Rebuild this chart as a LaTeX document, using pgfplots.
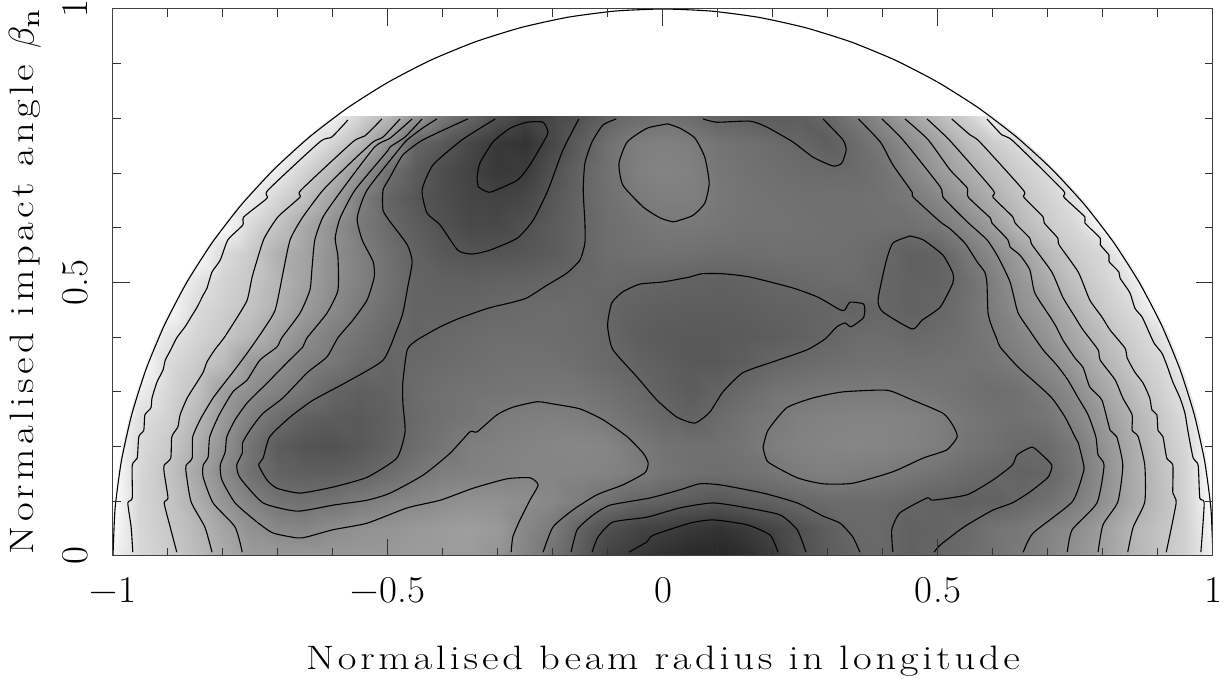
\documentclass[border=0pt]{standalone}
\usepackage{graphicx}
\usepackage{fontspec}
\setmainfont{Latin Modern Roman}[LetterSpace=11,FakeStretch=1.2]
\newfontfamily\ylabfont{Latin Modern Roman}[LetterSpace=12.5,FakeStretch=1.2]
\newfontfamily\tickfont{Latin Modern Roman}[LetterSpace=1,FakeStretch=1.03]
\usepackage{pgfplots}
\pgfplotsset{compat=1.18}
\begin{document}
\begin{tikzpicture}[x=1bp,y=1bp]
\useasboundingbox (-113,-123) rectangle (1107,556);
\begin{axis}[
  at={(0,0)},anchor=south west,
  scale only axis,width=1100bp,height=547bp,
  xmin=-1,xmax=1,ymin=0,ymax=1,
  axis on top,
  axis line style={line width=1bp,black!75},
  tick style={line width=1bp,black!80},
  tick align=inside,
  xtick={-1,-0.5,0,0.5,1},ytick={0,0.5,1},
  minor tick num=4,
  major tick length=17bp,minor tick length=8bp,
  xtick pos=both,ytick pos=both,
  xticklabel pos=bottom,yticklabel pos=left,
  xticklabels={−1,−0.5,0,0.5,1},
  yticklabels={0,0.5,1},
  xticklabel style={font=\tickfont\fontsize{38}{38}\selectfont,anchor=base,yshift=-47bp},
  yticklabel style={font=\tickfont\fontsize{38}{38}\selectfont,rotate=90,anchor=base,yshift=25bp},
  every axis x label/.style={at={(axis description cs:0.5,0)},anchor=base,yshift=-114bp,font=\fontsize{34}{34}\selectfont},
  every axis y label/.style={at={(axis description cs:0,0.5)},rotate=90,anchor=base,yshift=79bp,font=\ylabfont\fontsize{34}{34}\selectfont},
  xlabel={Normalised beam radius in longitude},
  ylabel={Normalised impact angle\ \scalebox{3.6}{\fontsize{10}{12}\selectfont$\beta_{\mathrm{n}}$}},
  colormap/blackwhite,
  point meta min=0,point meta max=1,
  clip=true,
]
\begin{scope}
\clip (axis cs:0,0) ellipse [x radius=552bp,y radius=549bp];
\addplot[surf,shader=interp,mesh/cols=41,mesh/rows=17,point meta=explicit] table[row sep=\\,header=false,
  x expr={-1+0.05*mod(\coordindex,41)},y expr={0.0503125*floor(\coordindex/41)},meta index=0]{
.95\\.85\\.80\\.74\\.67\\.61\\.60\\.60\\.60\\.60\\.60\\.61\\.61\\.61\\.58\\.52\\.45\\.36\\.26\\.23\\.19\\.16\\.15\\.17\\.23\\.31\\.36\\.40\\.41\\.38\\.40\\.42\\.45\\.48\\.52\\.57\\.63\\.70\\.76\\.82\\.95\\
.98\\.84\\.785\\.72\\.645\\.57\\.53\\.52\\.55\\.57\\.58\\.60\\.61\\.62\\.60\\.53\\.48\\.39\\.31\\.27\\.25\\.22\\.20\\.23\\.27\\.32\\.37\\.41\\.41\\.38\\.39\\.41\\.45\\.47\\.51\\.55\\.62\\.705\\.76\\.82\\.97\\
1\\.84\\.775\\.69\\.58\\.51\\.45\\.44\\.45\\.485\\.51\\.53\\.555\\.57\\.57\\.555\\.53\\.49\\.44\\.40\\.38\\.36\\.34\\.36\\.38\\.405\\.42\\.42\\.42\\.405\\.385\\.375\\.38\\.405\\.44\\.49\\.565\\.655\\.735\\.825\\1\\
1\\.84\\.765\\.66\\.54\\.44\\.385\\.37\\.37\\.39\\.425\\.465\\.495\\.505\\.51\\.52\\.52\\.52\\.51\\.49\\.46\\.44\\.43\\.44\\.46\\.485\\.50\\.49\\.48\\.465\\.445\\.42\\.405\\.385\\.40\\.46\\.555\\.66\\.745\\.825\\1\\
1\\.855\\.79\\.69\\.57\\.45\\.36\\.33\\.32\\.345\\.385\\.425\\.46\\.495\\.505\\.515\\.525\\.53\\.52\\.48\\.45\\.44\\.44\\.46\\.49\\.51\\.52\\.525\\.52\\.51\\.49\\.46\\.44\\.415\\.42\\.475\\.57\\.665\\.76\\.84\\1\\
1\\.875\\.82\\.725\\.60\\.50\\.425\\.375\\.36\\.35\\.375\\.415\\.44\\.46\\.485\\.495\\.50\\.495\\.47\\.44\\.41\\.385\\.42\\.45\\.475\\.50\\.51\\.515\\.515\\.51\\.495\\.465\\.445\\.44\\.46\\.52\\.60\\.69\\.78\\.86\\1\\
1\\.93\\.84\\.765\\.62\\.555\\.505\\.455\\.395\\.37\\.385\\.42\\.44\\.45\\.455\\.46\\.465\\.46\\.44\\.415\\.385\\.36\\.39\\.42\\.45\\.465\\.475\\.48\\.48\\.47\\.46\\.445\\.43\\.445\\.49\\.55\\.645\\.73\\.81\\.885\\1\\
1\\1\\.855\\.80\\.73\\.60\\.56\\.50\\.465\\.42\\.395\\.41\\.42\\.43\\.44\\.445\\.445\\.43\\.41\\.39\\.37\\.35\\.35\\.37\\.40\\.415\\.43\\.44\\.445\\.44\\.445\\.45\\.46\\.49\\.54\\.61\\.70\\.775\\.84\\.95\\1\\
1\\1\\.90\\.835\\.785\\.715\\.63\\.555\\.49\\.45\\.405\\.395\\.41\\.42\\.43\\.43\\.425\\.42\\.405\\.37\\.355\\.35\\.35\\.355\\.365\\.38\\.40\\.42\\.425\\.41\\.42\\.44\\.475\\.52\\.585\\.66\\.74\\.81\\.87\\1\\1\\
1\\1\\.98\\.86\\.81\\.765\\.69\\.61\\.54\\.48\\.43\\.39\\.39\\.395\\.41\\.42\\.425\\.42\\.40\\.38\\.37\\.365\\.365\\.37\\.38\\.385\\.395\\.39\\.40\\.38\\.40\\.44\\.49\\.56\\.62\\.71\\.79\\.85\\.98\\1\\1\\
1\\1\\1\\.90\\.83\\.78\\.71\\.635\\.56\\.505\\.445\\.39\\.38\\.375\\.385\\.39\\.40\\.41\\.415\\.405\\.395\\.385\\.38\\.385\\.40\\.41\\.42\\.425\\.40\\.38\\.385\\.43\\.50\\.585\\.675\\.76\\.825\\.90\\1\\1\\1\\
1\\1\\1\\1\\.86\\.795\\.69\\.64\\.56\\.50\\.44\\.385\\.345\\.33\\.33\\.34\\.36\\.395\\.43\\.44\\.445\\.44\\.43\\.43\\.435\\.435\\.435\\.43\\.41\\.375\\.39\\.46\\.54\\.62\\.725\\.80\\.85\\.98\\1\\1\\1\\
1\\1\\1\\1\\.98\\.85\\.76\\.66\\.565\\.475\\.415\\.365\\.32\\.285\\.285\\.32\\.36\\.395\\.43\\.45\\.47\\.47\\.46\\.45\\.45\\.445\\.44\\.44\\.44\\.44\\.465\\.53\\.615\\.72\\.795\\.845\\.98\\1\\1\\1\\1\\
1\\1\\1\\1\\1\\.93\\.835\\.75\\.63\\.495\\.395\\.34\\.305\\.27\\.26\\.28\\.345\\.395\\.44\\.475\\.495\\.495\\.47\\.455\\.445\\.44\\.44\\.44\\.445\\.47\\.53\\.605\\.685\\.76\\.825\\.89\\1\\1\\1\\1\\1\\
1\\1\\1\\1\\1\\1\\.92\\.825\\.72\\.58\\.44\\.36\\.30\\.26\\.22\\.235\\.32\\.39\\.445\\.495\\.515\\.505\\.465\\.445\\.435\\.42\\.415\\.42\\.45\\.52\\.60\\.665\\.74\\.805\\.865\\1\\1\\1\\1\\1\\1\\
1\\1\\1\\1\\1\\1\\1\\.93\\.83\\.72\\.57\\.40\\.345\\.28\\.22\\.20\\.28\\.365\\.44\\.49\\.505\\.49\\.455\\.44\\.42\\.40\\.37\\.42\\.48\\.555\\.64\\.73\\.80\\.86\\1\\1\\1\\1\\1\\1\\1\\
1\\1\\1\\1\\1\\1\\1\\1\\.95\\.83\\.73\\.59\\.47\\.40\\.32\\.26\\.28\\.32\\.385\\.42\\.44\\.42\\.385\\.37\\.36\\.37\\.405\\.47\\.55\\.635\\.73\\.81\\.95\\1\\1\\1\\1\\1\\1\\1\\1\\
};
\end{scope}
\tikzset{ct/.style={black,line width=1.1bp,line join=round,mark=none,smooth,tension=0.35}}
% semicircle boundary
\addplot[ct] coordinates {(-1,0)(-.9962,.0872)(-.9848,.1736)(-.9659,.2588)(-.9397,.3420)(-.9063,.4226)(-.8660,.5)(-.8192,.5736)(-.7660,.6428)(-.7071,.7071)(-.6428,.7660)(-.5736,.8192)(-.5,.8660)(-.4226,.9063)(-.3420,.9397)(-.2588,.9659)(-.1736,.9848)(-.0872,.9962)(0,1)(.0872,.9962)(.1736,.9848)(.2588,.9659)(.3420,.9397)(.4226,.9063)(.5,.8660)(.5736,.8192)(.6428,.7660)(.7071,.7071)(.7660,.6428)(.8192,.5736)(.8660,.5)(.9063,.4226)(.9397,.3420)(.9659,.2588)(.9848,.1736)(.9962,.0872)(1,0)};
% left contours
\addplot[ct] coordinates {(-.964,.007)(-.967,.053)(-.973,.097)(-.965,.106)(-.965,.166)(-.956,.179)(-.953,.218)(-.944,.230)(-.942,.258)(-.931,.271)(-.929,.289)(-.920,.318)(-.909,.340)(-.905,.358)(-.895,.377)(-.884,.399)(-.869,.419)(-.858,.437)(-.847,.455)(-.836,.477)(-.829,.490)(-.820,.519)(-.805,.541)(-.791,.578)(-.764,.605)(-.762,.620)(-.720,.654)(-.718,.669)(-.624,.757)(-.602,.766)(-.573,.797)};
\addplot[ct] coordinates {(-.884,.007)(-.896,.053)(-.907,.097)(-.900,.106)(-.907,.152)(-.907,.166)(-.895,.179)(-.893,.218)(-.882,.236)(-.878,.258)(-.865,.289)(-.847,.318)(-.836,.336)(-.829,.355)(-.815,.377)(-.798,.399)(-.775,.435)(-.756,.468)(-.747,.510)(-.738,.541)(-.725,.581)(-.700,.620)(-.660,.656)(-.658,.669)(-.564,.757)(-.542,.768)(-.511,.799)};
\addplot[ct] coordinates {(-.820,.007)(-.833,.053)(-.858,.099)(-.867,.152)(-.867,.166)(-.856,.179)(-.855,.218)(-.840,.252)(-.818,.289)(-.796,.318)(-.782,.336)(-.756,.371)(-.727,.413)(-.705,.450)(-.691,.517)(-.678,.578)(-.656,.618)(-.618,.669)(-.569,.718)(-.527,.757)(-.509,.766)(-.478,.799)};
\addplot[ct] coordinates {(-.765,.007)(-.778,.053)(-.818,.097)(-.836,.144)(-.836,.166)(-.827,.181)(-.824,.218)(-.807,.258)(-.782,.300)(-.756,.322)(-.733,.358)(-.702,.382)(-.693,.399)(-.660,.444)(-.642,.486)(-.638,.528)(-.633,.578)(-.618,.620)(-.584,.669)(-.524,.748)(-.496,.764)(-.456,.799)};
\addplot[ct] coordinates {(-.438,.799)(-.469,.766)(-.496,.748)(-.502,.739)(-.560,.669)(-.587,.618)(-.596,.581)(-.591,.547)(-.591,.486)(-.611,.444)(-.647,.399)(-.655,.382)(-.684,.353)(-.720,.316)(-.756,.280)(-.778,.249)(-.793,.218)(-.796,.190)(-.805,.166)(-.802,.139)(-.778,.097)(-.738,.062)(-.709,.042)(-.665,.033)(-.647,.035)(-.600,.048)(-.538,.060)(-.465,.088)(-.405,.102)(-.345,.124)(-.284,.141)(-.242,.143)(-.227,.130)(-.242,.102)(-.260,.066)(-.273,.035)(-.276,.007)};
\addplot[ct] coordinates {(-.411,.799)(-.436,.783)(-.465,.761)(-.478,.746)(-.538,.669)(-.556,.618)(-.547,.578)(-.527,.538)(-.525,.510)(-.538,.468)(-.564,.431)(-.591,.399)(-.611,.364)(-.647,.335)(-.691,.289)(-.727,.261)(-.747,.236)(-.764,.208)(-.765,.188)(-.775,.166)(-.769,.143)(-.727,.097)(-.665,.082)(-.600,.093)(-.538,.102)(-.496,.115)(-.436,.148)(-.387,.188)(-.351,.227)(-.338,.227)(-.302,.258)(-.273,.272)(-.229,.282)(-.200,.278)(-.151,.269)(-.109,.249)(-.065,.218)(-.036,.188)(-.027,.170)(-.033,.152)(-.073,.130)(-.120,.112)(-.164,.084)(-.200,.053)(-.218,.007)};
\addplot[ct] coordinates {(-.355,.799)(-.436,.761)(-.473,.733)(-.496,.693)(-.509,.669)(-.509,.632)(-.496,.611)(-.465,.569)(-.456,.538)(-.464,.492)(-.473,.444)(-.484,.413)(-.509,.358)(-.575,.318)(-.636,.285)(-.678,.254)(-.715,.218)(-.727,.179)(-.735,.166)(-.720,.139)(-.702,.124)(-.660,.115)(-.600,.126)(-.538,.144)(-.484,.179)(-.469,.227)(-.473,.280)(-.473,.318)(-.465,.377)(-.447,.395)(-.405,.419)(-.369,.435)(-.318,.453)(-.273,.464)(-.247,.472)(-.211,.495)(-.175,.517)(-.151,.541)(-.142,.572)(-.142,.609)(-.145,.669)(-.142,.718)(-.129,.757)(-.109,.788)(-.085,.799)};
\addplot[ct] coordinates {(-.305,.799)(-.365,.761)(-.418,.715)(-.438,.669)(-.429,.627)(-.405,.605)(-.373,.559)(-.347,.552)(-.315,.559)(-.265,.581)(-.236,.614)(-.209,.669)(-.182,.742)(-.153,.799)};
\addplot[ct] coordinates {(-.336,.675)(-.315,.665)(-.265,.687)(-.242,.715)(-.215,.761)(-.209,.775)(-.218,.793)(-.247,.793)(-.278,.782)(-.309,.757)(-.333,.718)(-.338,.691)(-.336,.675)};
% centre
\addplot[ct] coordinates {(.009,.790)(.031,.782)(.058,.764)(.076,.729)(.084,.682)(.076,.645)(.055,.623)(.031,.614)(.018,.611)(-.005,.618)(-.036,.638)(-.073,.678)(-.080,.718)(-.065,.757)(-.029,.782)(.009,.790)};
\addplot[ct] coordinates {(.073,.799)(.098,.793)(.158,.795)(.189,.784)(.236,.757)(.273,.729)(.309,.713)(.325,.718)(.333,.742)(.327,.761)(.291,.799)};
\addplot[ct] coordinates {(.049,.510)(0,.501)(-.042,.497)(-.073,.483)(-.093,.463)(-.100,.431)(-.100,.413)(-.091,.377)(-.047,.327)(-.011,.285)(.025,.254)(.058,.243)(.085,.263)(.109,.300)(.145,.335)(.200,.355)(.262,.377)(.295,.397)(.316,.419)(.331,.426)(.342,.419)(.364,.435)(.367,.450)(.364,.461)(.340,.464)(.331,.450)(.322,.450)(.282,.473)(.236,.490)(.158,.510)(.109,.516)(.071,.516)(.049,.510)};
\addplot[ct] coordinates {(.449,.585)(.418,.572)(.405,.536)(.391,.468)(.400,.446)(.453,.415)(.471,.431)(.504,.455)(.527,.499)(.527,.517)(.509,.550)(.473,.578)(.449,.585)};
\addplot[ct] coordinates {(.182,.199)(.191,.230)(.225,.271)(.273,.289)(.327,.300)(.407,.303)(.449,.287)(.509,.261)(.527,.239)(.535,.218)(.516,.194)(.473,.179)(.418,.154)(.345,.133)(.291,.132)(.244,.143)(.191,.172)(.182,.199)};
% bottom dark
\addplot[ct] coordinates {(-.167,.007)(-.156,.048)(-.127,.075)(-.096,.093)(-.024,.106)(.031,.121)(.067,.132)(.104,.130)(.182,.115)(.244,.097)(.291,.073)(.322,.060)(.345,.035)(.358,.007)};
\addplot[ct] coordinates {(-.129,.007)(-.118,.035)(-.091,.062)(-.029,.071)(.031,.088)(.091,.097)(.153,.088)(.213,.075)(.244,.048)(.260,.007)};
\addplot[ct] coordinates {(-.062,.007)(-.029,.026)(-.018,.038)(.049,.060)(.091,.066)(.153,.057)(.195,.038)(.209,.007)};
% right contours
\addplot[ct] coordinates {(.418,.007)(.416,.048)(.431,.079)(.480,.106)(.491,.102)(.553,.112)(.600,.139)(.635,.166)(.644,.185)(.671,.199)(.689,.185)(.707,.166)(.700,.144)(.667,.117)(.635,.097)(.600,.084)(.558,.060)(.540,.048)(.504,.020)(.493,.007)};
\addplot[ct] coordinates {(.355,.799)(.395,.757)(.418,.715)(.453,.665)(.455,.656)(.504,.611)(.522,.598)(.549,.572)(.571,.538)(.585,.519)(.589,.499)(.591,.444)(.598,.419)(.607,.397)(.613,.382)(.645,.346)(.676,.318)(.707,.289)(.731,.254)(.749,.218)(.755,.207)(.765,.166)(.764,.152)(.744,.099)(.673,.042)(.655,.007)};
\addplot[ct] coordinates {(.398,.799)(.436,.761)(.504,.675)(.509,.656)(.553,.611)(.589,.578)(.609,.547)(.631,.501)(.645,.446)(.662,.419)(.691,.377)(.716,.349)(.736,.322)(.755,.289)(.773,.258)(.787,.218)(.791,.185)(.802,.166)(.789,.097)(.744,.048)(.735,.007)};
\addplot[ct] coordinates {(.440,.799)(.482,.761)(.522,.706)(.553,.673)(.555,.656)(.595,.618)(.598,.609)(.627,.578)(.631,.565)(.649,.550)(.667,.523)(.676,.481)(.704,.437)(.715,.419)(.727,.395)(.749,.362)(.764,.344)(.776,.309)(.798,.285)(.813,.230)(.825,.218)(.836,.166)(.827,.099)(.800,.057)(.791,.007)};
\addplot[ct] coordinates {(.480,.799)(.522,.759)(.600,.669)(.600,.656)(.636,.620)(.640,.609)(.667,.581)(.671,.569)(.707,.519)(.727,.473)(.749,.437)(.764,.413)(.791,.377)(.795,.358)(.822,.322)(.836,.289)(.853,.258)(.853,.230)(.864,.218)(.876,.166)(.876,.099)(.855,.053)(.845,.007)};
\addplot[ct] coordinates {(.525,.799)(.558,.770)(.576,.757)(.655,.669)(.656,.656)(.691,.620)(.693,.609)(.718,.581)(.720,.569)(.755,.519)(.776,.468)(.798,.437)(.813,.413)(.840,.380)(.844,.362)(.858,.336)(.873,.316)(.885,.289)(.889,.267)(.898,.258)(.900,.230)(.909,.218)(.916,.179)(.927,.166)(.927,.115)(.933,.097)(.915,.007)};
\addplot[ct] coordinates {(.589,.799)(.616,.770)(.636,.759)(.727,.669)(.729,.656)(.767,.620)(.767,.609)(.795,.581)(.795,.569)(.811,.550)(.811,.538)(.829,.519)(.831,.508)(.849,.481)(.858,.453)(.871,.437)(.882,.413)(.893,.389)(.907,.371)(.916,.349)(.927,.318)(.940,.289)(.949,.261)(.955,.225)(.964,.179)(.973,.166)(.976,.106)(.984,.097)(.978,.007)};
\end{axis}
\end{tikzpicture}
\end{document}
